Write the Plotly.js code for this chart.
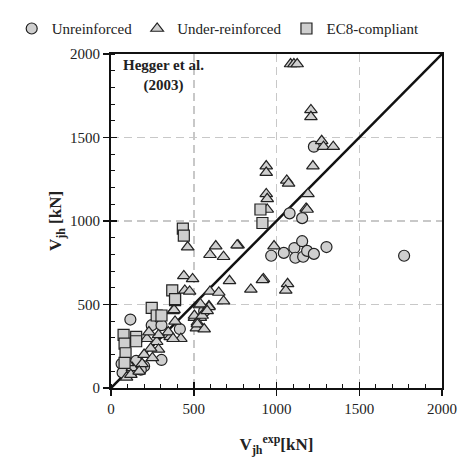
<!DOCTYPE html>
<html><head><meta charset="utf-8">
<script src="https://cdn.plot.ly/plotly-3.0.1.min.js"></script>
<style>body{margin:0;padding:0;background:#fff;font-family:"Liberation Serif",serif}#chart{width:467px;height:461px}</style>
</head><body><div id="chart"></div>
<script>
// Unreinforced (circles)
const unreinforcedX = [1226,1079,1155,968,1044,1108,1155,1114,1161,1185,1226,1302,1771,569,563,117,246,305,416,305,64,152,110,70,130,200,180];
const unreinforcedY = [1445,1046,1017,792,809,838,879,780,786,821,803,844,792,468,460,410,376,376,353,168,145,162,110,92,100,130,110];
// Under-reinforced (triangles)
const underX = [1085,1105,1125,1208,1208,1273,1284,1343,1220,938,938,938,944,1062,1073,1190,1179,944,1185,768,985,921,845,1067,1056,463,633,598,680,762,440,493,446,475,716,915,598,651,680,534,592,375,504,540,522,516,387,381,540,504,551,592,522,563,581,422,217,276,287,240,358,346,375,287,229,94,158,188,129,120,100,200,250,170];
const underY = [1940,1940,1940,1665,1624,1480,1445,1445,1329,1329,1290,1162,1133,1243,1225,1162,1075,1069,1069,855,850,653,590,624,584,844,850,798,786,855,671,653,584,578,642,647,578,572,520,497,491,462,422,422,393,358,399,468,503,434,434,486,382,353,462,295,295,277,231,237,306,335,295,318,335,64,104,145,121,80,150,200,180,100];
// EC8-compliant (squares)
const ec8X = [903,915,434,440,370,387,387,246,276,305,76,82,152,152,88,82];
const ec8Y = [1069,988,954,913,584,526,532,480,434,434,318,266,306,280,208,150];
// 1:1 line
const lineX = [0,2000];
const lineY = [0,2000];
const tickVals = [0,500,1000,1500,2000];

const fill = '#cfcfcf', edge = '#222';
const mk = (sym, sz) => ({symbol: sym, size: sz, color: fill, line: {color: edge, width: 1.2}});
const traces = [
  {x: lineX, y: lineY, mode: 'lines', line: {color: '#111', width: 2.5}, showlegend: false, hoverinfo: 'skip'},
  {x: unreinforcedX, y: unreinforcedY, mode: 'markers', name: 'Unreinforced', marker: mk('circle', 11)},
  {x: underX, y: underY, mode: 'markers', name: 'Under-reinforced', marker: mk('triangle-up', 11)},
  {x: ec8X, y: ec8Y, mode: 'markers', name: 'EC8-compliant', marker: mk('square', 11)},
  // empty trace so the inner-tick overlay axes are drawn
  {x: [], y: [], xaxis: 'x2', yaxis: 'y2', mode: 'markers', showlegend: false, hoverinfo: 'skip'}
];
const FAM = '"Liberation Serif", serif';
const font = {family: FAM, color: '#222', size: 15};
const axis = (title) => ({
  range: [0, 2000], tickvals: tickVals, ticktext: tickVals.map(String),
  showgrid: true, gridcolor: '#c8c8c8', griddash: '8px,5px', gridwidth: 1.5,
  zeroline: false, showline: true, linecolor: '#111', linewidth: 2, mirror: true,
  ticks: 'outside', ticklen: 6, tickwidth: 1.5, tickcolor: '#111',
  minor: {dtick: 100, ticks: 'inside', ticklen: 4, tickcolor: '#111', tickwidth: 1, showgrid: false},
  tickfont: {family: FAM, size: 15, color: '#222'},
  title: {text: title, font: {family: FAM, size: 17, color: '#222'}},
  fixedrange: true
});
const innerAxis = (overlay, anchor, side) => ({
  overlaying: overlay, anchor: anchor, side: side, range: [0, 2000], tickvals: tickVals,
  ticks: 'inside', ticklen: 6, tickwidth: 1.5, tickcolor: '#111',
  showticklabels: false, showgrid: false, zeroline: false, showline: false, fixedrange: true
});
const layout = {
  width: 467, height: 461,
  margin: {l: 101, r: 25, t: 42, b: 73},
  paper_bgcolor: '#fff', plot_bgcolor: '#fff',
  font: font,
  xaxis: axis('<b>V<sub>jh</sub><sup>exp</sup>[kN]</b>'),
  yaxis: axis('<b>V<sub>jh</sub> [kN]</b>'),
  xaxis2: innerAxis('x', 'y', 'bottom'),
  yaxis2: innerAxis('y', 'x', 'left'),
  showlegend: true,
  legend: {orientation: 'h', x: -0.30, xref: 'paper', xanchor: 'left', y: 1.125, yref: 'paper', yanchor: 'top',
           bgcolor: 'rgba(0,0,0,0)',
           font: {family: FAM, size: 15, color: '#222'}, itemwidth: 30, tracegroupgap: 0},
  annotations: [{
    text: '<b>Hegger et al.</b><br><b>(2003)</b>', xref: 'paper', yref: 'paper',
    x: 0.16, y: 0.935, xanchor: 'center', yanchor: 'middle', showarrow: false,
    font: {family: FAM, size: 15, color: '#222'}
  }]
};
Plotly.newPlot('chart', traces, layout, {displayModeBar: false, staticPlot: true});
</script></body></html>
